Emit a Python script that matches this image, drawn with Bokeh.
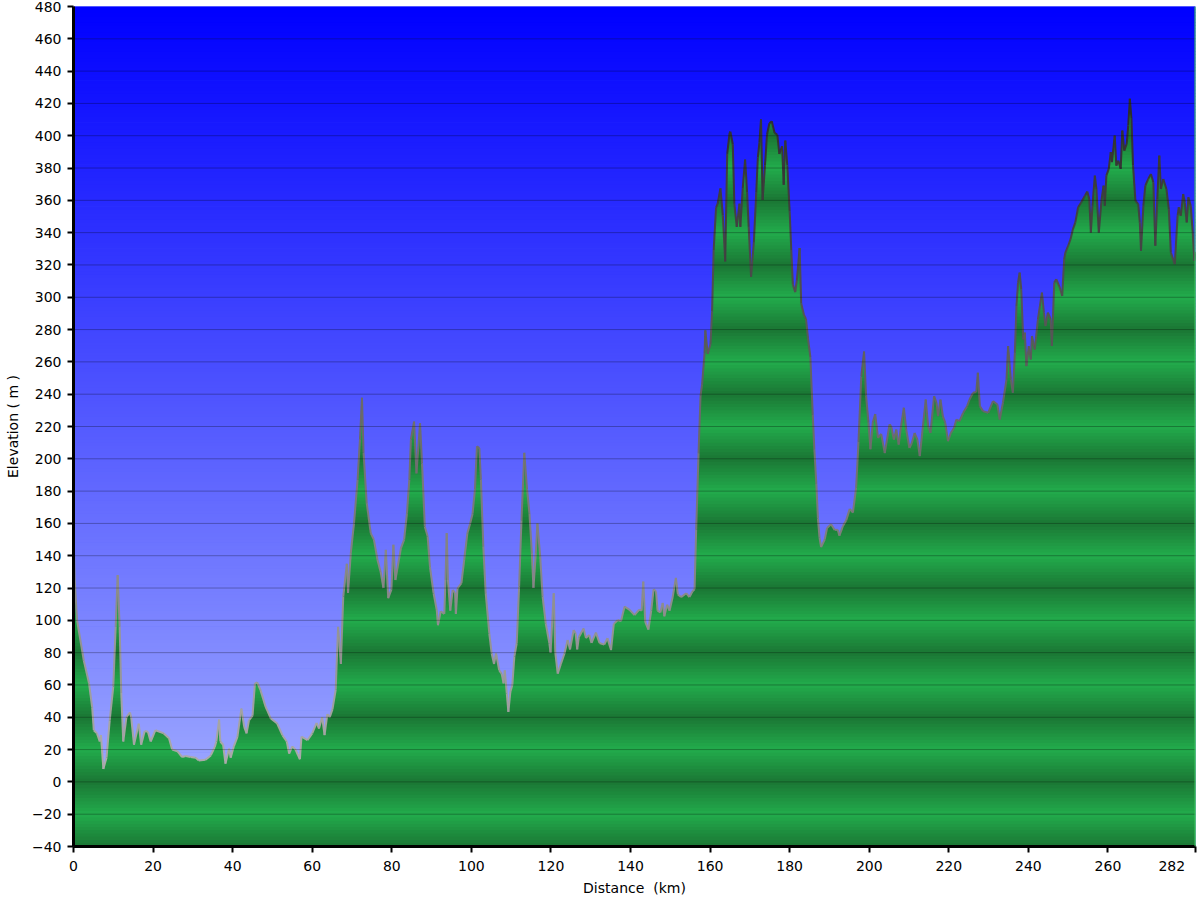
import numpy as np
from bokeh.plotting import figure
from bokeh.models import FixedTicker, Span
from bokeh.embed import file_html
from bokeh.resources import INLINE

# ---------------- data ----------------
dist_km = [
    0.0, 0.3, 0.9, 2.6, 3.9, 4.7, 5.1, 5.9, 6.6, 6.9, 7.5, 8.3, 9.1, 10.0, 10.6, 11.1, 11.6, 12.0, 12.5,
    13.3, 14.2, 14.5, 15.2, 16.4, 17.0, 17.9, 18.7, 19.4, 20.6, 22.7, 24.0, 24.8, 26.1, 27.3, 28.2, 29.4,
    30.7, 31.5, 33.2, 34.5, 35.5, 35.9, 36.6, 36.9, 37.6, 38.2, 39.1, 39.5, 40.3, 41.2, 42.2, 42.9, 43.5,
    44.1, 45.0, 45.6, 46.2, 47.0, 48.3, 49.6, 51.2, 52.5, 53.6, 54.2, 55.0, 55.8, 56.9, 57.3, 58.8, 60.0,
    61.1, 61.7, 62.5, 63.1, 63.8, 64.4,
    65.1, 65.9, 66.5, 67.2, 67.8, 68.7, 69.0, 69.7, 70.5, 71.4, 72.0, 72.5, 72.9, 73.7, 74.7, 75.5, 76.4,
    77.2, 77.9, 78.5, 79.1, 79.9, 80.4, 80.9, 82.3, 83.1, 83.8, 84.4, 84.8, 85.6, 86.2, 87.1, 87.6, 88.3,
    89.0, 89.6, 90.5, 91.3, 91.6, 92.3, 93.2, 93.5, 93.8, 94.1, 94.7, 95.3, 95.9, 96.1, 96.5, 97.5, 98.2,
    99.0, 99.7, 100.3, 100.9, 101.4, 102.0, 102.4, 103.0, 103.6, 104.5, 105.1, 105.7, 106.2, 107.0, 107.6,
    108.1, 108.4, 108.9, 109.3, 109.8, 110.3, 110.8, 111.4, 112.0, 112.6, 113.3, 114.0, 114.6, 115.2,
    115.6, 116.2, 116.6, 117.3, 117.9, 118.7, 119.6, 119.9, 120.7, 121.1, 121.7, 122.5, 123.4, 124.2,
    124.8, 125.7, 126.2, 126.6, 127.0, 128.2, 128.8, 129.6, 130.2, 131.3, 132.2, 133.4, 134.2, 135.1,
    135.8, 136.8, 137.6, 138.5, 139.7, 141.0, 142.2, 142.8, 143.2, 143.7, 144.5, 145.2, 145.8, 146.4,
    146.8, 147.5, 148.1, 148.5, 149.2, 149.8, 150.6, 151.4, 151.9, 152.7, 154.0, 154.8, 155.6, 156.1,
    156.5, 157.1, 157.6, 158.0, 158.6, 158.8, 159.4, 160.1, 160.5, 160.9, 161.5, 161.9, 162.6, 163.2,
    163.8, 164.3, 164.9, 165.1, 165.7, 166.1, 166.7, 167.4, 167.6, 168.2, 168.8, 169.3, 169.7, 170.3,
    171.0, 171.6, 172.0, 172.4, 172.8, 173.2, 173.8, 174.3, 174.9, 175.5, 176.2, 176.9, 177.4, 178.1,
    178.5, 178.9, 179.4, 180.0, 180.4, 180.8, 181.4, 181.8, 182.5, 182.9, 183.6, 184.1, 184.6, 185.2,
    185.8, 186.2, 186.7, 187.1, 187.5, 187.9, 188.8, 189.4, 190.4, 191.3, 192.1, 192.5, 193.4, 194.2,
    195.1, 195.9, 196.7, 197.3, 198.0, 198.7, 199.2, 199.8, 200.3, 200.9, 201.5, 202.2, 203.0, 203.9,
    205.1,
    205.5, 206.2, 206.8, 207.4, 208.0, 208.7, 209.3, 210.1, 210.7, 211.4, 212.1, 212.7, 213.5, 214.2,
    214.8, 215.4, 216.3, 216.9, 217.3, 217.9, 218.5, 219.1, 219.8, 220.5, 221.3, 221.9, 222.7, 223.6,
    224.6, 225.2, 226.1, 226.9, 227.3, 227.8, 228.6, 229.9, 231.1, 232.2, 232.8, 233.6, 234.5, 234.9,
    235.6, 236.1, 236.6, 237.0, 237.4, 237.8, 238.2, 238.7, 239.1, 239.5, 240.1, 240.6, 240.9, 241.6,
    242.4, 242.9, 243.4, 243.9, 244.3, 244.9, 245.6, 245.9, 246.5, 247.0, 247.9, 248.5, 249.0, 249.3,
    250.0, 250.6, 251.2, 251.8, 252.5, 253.3, 254.2, 254.8, 255.3, 255.7, 256.1, 256.7, 257.1, 257.7,
    258.4, 258.9, 259.2, 259.6, 260.2, 260.7, 261.0, 261.7, 262.1, 262.6, 263.2, 263.6, 264.1, 264.7,
    265.1, 265.5, 265.9, 266.3, 266.9, 267.6, 268.0, 268.3, 268.9, 269.4, 270.1, 270.8, 271.4, 271.9,
    272.4, 272.9, 273.3, 273.9, 274.7, 275.3, 275.8, 276.8, 277.5, 277.8, 278.3, 278.9, 279.3, 279.8,
    280.2, 280.8, 281.3, 281.7, 282.0,
]
elev_m = [
    155, 125, 100, 75, 61, 46, 32, 30, 25, 29, 8, 15, 38, 59, 96, 128, 96, 55, 25,
    40, 43, 40, 23, 36, 23, 31.5, 31, 25, 32, 30, 27, 20, 19, 15.4, 16, 15.4,
    15, 13.3, 13.7, 16.4, 21.6, 25, 38.6, 25, 23, 11.3, 20.6, 15, 22, 27.8, 45.4, 34, 30,
    38, 41, 61, 61.5, 56.8, 46.4, 39.2, 36.1, 28.9, 25, 17.5, 22, 20, 14, 28, 25.8, 30,
    36.5, 33, 40, 29, 42, 40,
    45, 57, 96, 73, 114.7, 135, 117, 141.6, 160, 187, 212, 237.8, 203.7, 172.6, 154, 150, 137.5,
    130, 120, 143.6, 113.7, 119, 146.8, 125, 144.7, 150, 166, 187, 212, 223, 191, 222, 197, 158,
    152, 133, 116.8, 106.4, 97, 105.6, 104, 125, 154, 125, 106, 118.8, 117, 104, 119.7, 123, 137.4,
    154, 160, 166, 181, 207.8, 206.7, 187, 145.7, 116.8, 92, 79.5, 73, 79.5, 69, 67,
    61, 69, 54.7, 43.3, 55.7, 60, 77.5, 85.8, 121, 162, 203.7, 181, 166, 141.6,
    120, 141.6, 160, 139.5, 114.7, 98, 85.8, 80, 116.8, 80, 67, 73, 79.5, 87.8,
    82, 94, 92, 82, 89.5, 95, 89, 91, 86, 92.4, 86, 85, 89, 81.6,
    97.8, 100.2, 99.5, 108.5, 106.6, 103.2, 106.6, 106, 124, 99, 94.2, 106, 119.2, 118,
    106, 104.9, 110.8, 102.5, 109.7, 106, 114.4, 126.3, 116, 114.4, 116.8, 114.4, 118, 119.2,
    156, 203.5, 239, 246.2, 265.2, 279.5, 265, 271, 291.3, 329.3, 355.5, 357.9, 367.4, 350.7,
    322.2, 388.7, 401.8, 402.5, 394.7, 357.9, 343.6, 357.9, 343.6, 367.4, 385.2, 365, 343.6, 312.7,
    334.1, 365, 386.4, 395.9, 410.1, 360.2, 381.6, 400.6, 407.7, 408.9, 401.8, 400.6, 388.7, 393.5,
    369.7, 397, 381.6, 353.1, 329.3, 308, 303.2, 310.4, 330.5, 296.1, 289, 286.6, 274.7, 262.9,
    227.2, 205.9, 184.5, 163.1, 151.2, 145.3, 150, 157.2, 159.5, 156, 156, 152.4, 158.4, 161.9,
    169, 166.7, 182.1, 210.6, 251, 266.4, 239.1, 222.5, 205.9, 222.5, 227.7, 213, 215.4, 203.5,
    221.3,
    220.2, 211.9, 218.1, 208.8, 220.2, 231.6, 218.1, 206.7, 209.8, 216, 211.9, 201.6, 220.2, 236.7,
    220.2, 216, 238.8, 234.7, 226.4, 236.7, 226.4, 222.3, 210.9, 216, 219.1, 224.3, 223.3, 228.5,
    232.6, 236.7, 240.9, 241.3, 253.3, 232.6, 229.5, 228.5, 235.7, 233.6, 224.3, 234.7, 249.1, 269.8,
    249.1, 240.9, 265.7, 294.6, 309.1, 315.3, 305, 273.9, 278.1, 257.4, 269.8, 261.5, 276, 267.7,
    286.4, 294.6, 302.9, 290.5, 282.2, 290.5, 286.4, 269.8, 309.1, 311.2, 306, 300.8, 323.6, 327.7,
    331.9, 336, 342.2, 346.4, 355.7, 358.8, 362.9, 365.4, 360.8, 340.1, 356.7, 375.3, 367, 340.1,
    360.8, 369.1, 356.7, 375.3, 379.5, 389.8, 383.6, 400.1, 381.5, 384.6, 379.5, 403.2, 390.8, 395,
    406.3, 422.9, 410.5, 381.5, 359.8, 357.7, 346.4, 328.8, 356.7, 369.1, 373.2, 376.3, 371.2, 331.9,
    360.8, 387.7, 367, 373.2, 367, 354.6, 327.7, 320.5, 350.5, 355.7, 350.5, 363.9, 358.8, 346.4,
    361.9, 356.7, 340.1, 322.6, 328,
]
x_ticks = [0, 20, 40, 60, 80, 100, 120, 140, 160, 180, 200, 220, 240, 260, 282]
y_ticks = list(range(-40, 481, 20))
x_label = "Distance \u00a0(km)"
y_label = "Elevation ( m )"

X_END = 282.0
Y_MIN, Y_MAX = -40, 480
FONT = "DejaVu Sans"

p = figure(width=1198, height=898, x_range=(0, X_END), y_range=(Y_MIN, Y_MAX),
           output_backend="svg", toolbar_location=None,
           min_border_left=73, min_border_right=3, min_border_top=6, min_border_bottom=52)
p.outline_line_color = None
p.grid.visible = False
p.background_fill_color = "#5060ff"
p.border_fill_color = "white"

# ---- blue vertical gradient background ----
step = 2.0
bots = np.arange(Y_MIN, Y_MAX, step)
bg_cols = []
for b in bots:
    t = (Y_MAX - (b + step / 2)) / (Y_MAX - Y_MIN)
    bg_cols.append("#%02x%02x%02x" % (int(170 * t), int(182 * t), 255))
p.quad(left=0, right=X_END, bottom=bots, top=bots + step + 0.4, fill_color=bg_cols, line_color=None)

# ---- green striped area (bands of 2 m, dark at multiples of 40, light at 20 mod 40) ----
x = np.array(dist_km, float)
y = np.array(elev_m, float)
levels = np.arange(Y_MIN, Y_MAX + 1, step)

# insert exact level crossings (points lying on the original segments)
xs, ys = [x[0]], [y[0]]
for i in range(len(x) - 1):
    x0, x1, y0, y1 = x[i], x[i + 1], y[i], y[i + 1]
    if y1 != y0:
        lo, hi = min(y0, y1), max(y0, y1)
        ls = levels[(levels > lo) & (levels < hi)]
        ts = (ls - y0) / (y1 - y0)
        o = np.argsort(ts)
        for tt, ll in zip(ts[o], ls[o]):
            xs.append(x0 + tt * (x1 - x0))
            ys.append(ll)
    xs.append(x1)
    ys.append(y1)
xs = np.array(xs)
ys = np.array(ys)

light = np.array([34, 172, 76])
dark = np.array([27, 118, 52])
top_level = ys.max()
bands = [a for a in np.arange(Y_MIN, Y_MAX, step) if a < top_level]
for a in reversed(bands):
    lo_b = a - step
    hi_b = a + step
    yc = np.clip(ys, lo_b, hi_b)
    keep = np.ones(len(yc), bool)
    keep[1:-1] = ~((yc[1:-1] == yc[:-2]) & (yc[1:-1] == yc[2:]))
    mid = a + step / 2
    w = 1 - abs(((mid - Y_MIN) % 40) - 20) / 20.0
    c = dark + w * (light - dark)
    col = "#%02x%02x%02x" % tuple(int(round(v)) for v in c)
    y1 = lo_b if a > Y_MIN else Y_MIN
    p.varea(x=xs[keep], y1=y1, y2=yc[keep], fill_color=col)

# ---- outline of the profile, grey at low elevations, dark at high ----
seg_x, seg_y, seg_c = [], [], []
for i in range(len(x) - 1):
    m = (y[i] + y[i + 1]) / 2
    t = min(max(m / 420.0, 0), 1)
    g = int(175 - 130 * t)
    seg_x.append([x[i], x[i + 1]])
    seg_y.append([y[i], y[i + 1]])
    seg_c.append("#%02x%02x%02x" % (g, g, g))
p.multi_line(xs=seg_x, ys=seg_y, line_color=seg_c, line_width=2)

# ---- horizontal gridlines on top ----
for v in y_ticks[1:-1]:
    p.add_layout(Span(location=v, dimension="width", line_color="black", line_alpha=0.28, line_width=1))
p.add_layout(Span(location=X_END, dimension="height", line_color="#3cc85a", line_width=2))

# ---- axes ----
for ax in (p.xaxis[0], p.yaxis[0]):
    ax.axis_line_color = "black"
    ax.axis_line_width = 3
    ax.major_tick_line_color = "black"
    ax.major_tick_line_width = 2
    ax.major_tick_in = 0
    ax.major_tick_out = 6
    ax.minor_tick_line_color = None
    ax.major_label_text_font = FONT
    ax.major_label_text_font_size = "14px"
    ax.major_label_text_color = "black"
    ax.axis_label_text_font = FONT
    ax.axis_label_text_font_size = "14px"
    ax.axis_label_text_font_style = "normal"
    ax.axis_label_text_color = "black"

p.xaxis.ticker = FixedTicker(ticks=x_ticks, minor_ticks=[])
p.yaxis.ticker = FixedTicker(ticks=y_ticks, minor_ticks=[])
# last distance label sits left of its tick, inside the canvas
p.xaxis.major_label_overrides = {x_ticks[-1]: str(x_ticks[-1]) + "\u00a0" * 3}
p.xaxis.major_label_standoff = 5
p.yaxis.major_label_standoff = 6
p.xaxis.axis_label = x_label
p.yaxis.axis_label = y_label
p.xaxis.axis_label_standoff = 3
p.yaxis.axis_label_standoff = 8

open("out.html", "w").write(file_html(p, INLINE))
